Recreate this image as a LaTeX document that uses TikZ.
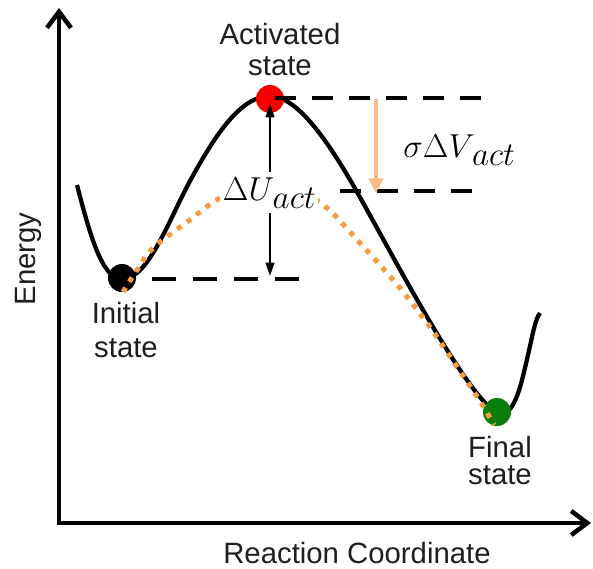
\documentclass[tikz,border=0pt]{standalone}
\usepackage[no-math]{fontspec}
\setmainfont{Liberation Sans}
\usetikzlibrary{arrows.meta}
\definecolor{txt}{RGB}{30,30,30}
\definecolor{dotorange}{RGB}{246,155,62}
\definecolor{peach}{RGB}{249,187,135}
\definecolor{ballred}{RGB}{245,0,0}
\definecolor{ballgreen}{RGB}{10,125,10}
\newcommand\mysub[1]{\raisebox{-6pt}{\fontsize{23}{23}\selectfont$#1$}}
\tikzset{
  axisline/.style={line width=3.4pt, black, line cap=butt, line join=miter},
  energycurve/.style={line width=3.2pt, black},
  levelline/.style={line width=3pt, black, dash pattern=on 15.75pt off 12pt},
  lowlevel/.style={line width=3pt, black, dash pattern=on 18pt off 12.75pt},
  dotline/.style={line width=3.8pt, dotorange, dash pattern=on 3.8pt off 5.2pt},
  ball/.style={circle, inner sep=0pt, minimum size=21pt},
  lbl/.style={text=txt, font=\fontsize{22}{22.5}\selectfont, align=center, inner sep=0pt},
  mathlbl/.style={text=black, inner sep=0pt},
  dbl/.style={line width=1.5pt, black, {Triangle[length=10pt,width=6.5pt]}-{Triangle[length=10pt,width=6.5pt]}},
  sigarrow/.style={line width=3pt, peach, -{Triangle[length=11pt,width=11pt]}}
}
\begin{document}
\begin{tikzpicture}[x=0.75pt,y=-0.75pt]
\useasboundingbox (0,0) rectangle (593,568);

% axes
\coordinate (ytip) at (59,8);
\coordinate (origin) at (59,523);
\coordinate (xtip) at (591,523);
\draw[axisline, {Straight Barb[length=12pt,width=18pt]}-{Straight Barb[length=12pt,width=18pt]}] (ytip) -- (origin) -- (xtip);

% energy curve
\draw[energycurve] (77,185) .. controls (90,235) and (102,279) .. (122,279)
  .. controls (150,279) and (170,215) .. (195,172)
  .. controls (219,129) and (243,96) .. (270,96)
  .. controls (295,96) and (325,135) .. (357,192)
  .. controls (390,250) and (465,395) .. (497,413)
  .. controls (515,420) and (522,380) .. (528,355)
  .. controls (533,333) and (535,320) .. (540,313);

% states
\node[ball, fill=black] (init) at (122,278) {};
\node[ball, fill=ballred] (act) at (270,99) {};
\node[ball, fill=ballgreen] (fin) at (497,412) {};

% orange dotted path
\draw[dotline] plot[smooth, tension=0.5] coordinates {
 (123,292) (137,270) (153,248) (187,222) (222,197) (272,180) (322,204)
 (360,243) (400,288) (430,327) (455,364) (480,401) (494,425)};

% level lines
\coordinate (topL) at (275,98);
\coordinate (topR) at (481,98);
\coordinate (midL) at (340,191);
\coordinate (midR) at (473,191);
\coordinate (lowL) at (152,279);
\coordinate (lowR) at (299,279);
\draw[levelline] (topL) -- (topR);
\draw[levelline] (midL) -- (midR);
\draw[lowlevel] (lowL) -- (lowR);

% arrows
\coordinate (uTop) at (270,104);
\coordinate (uBot) at (270,276);
\draw[dbl] (uTop) -- (uBot);
\coordinate (sTop) at (376,99);
\coordinate (sBot) at (376,193);
\draw[sigarrow] (sTop) -- (sBot);

% math labels
\node[mathlbl, fill=white, inner xsep=2pt, inner ysep=4pt, anchor=base west] (dU) at (220,200)
  {\fontsize{26}{26}\selectfont$\Delta U$\kern-1pt\mysub{act}};
\node[mathlbl, anchor=base west] (sV) at (403,157)
  {\fontsize{26}{26}\selectfont$\sigma\Delta V$\kern-2pt\mysub{act}};

% text labels
\node[lbl, anchor=base] (actlbl) at (280,75) {Activated\\[0.5pt]state};
\node[lbl, anchor=base] (initlbl) at (126,357) {Initial\\[3pt]state};
\node[lbl, anchor=base] (finlbl) at (500,484) {Final\\[-2.5pt]state};
\node[lbl, anchor=base, rotate=90] (ylbl) at (36,259) {Energy};
\node[lbl, anchor=base] (xlbl) at (357,563) {Reaction Coordinate};
\end{tikzpicture}
\end{document}
